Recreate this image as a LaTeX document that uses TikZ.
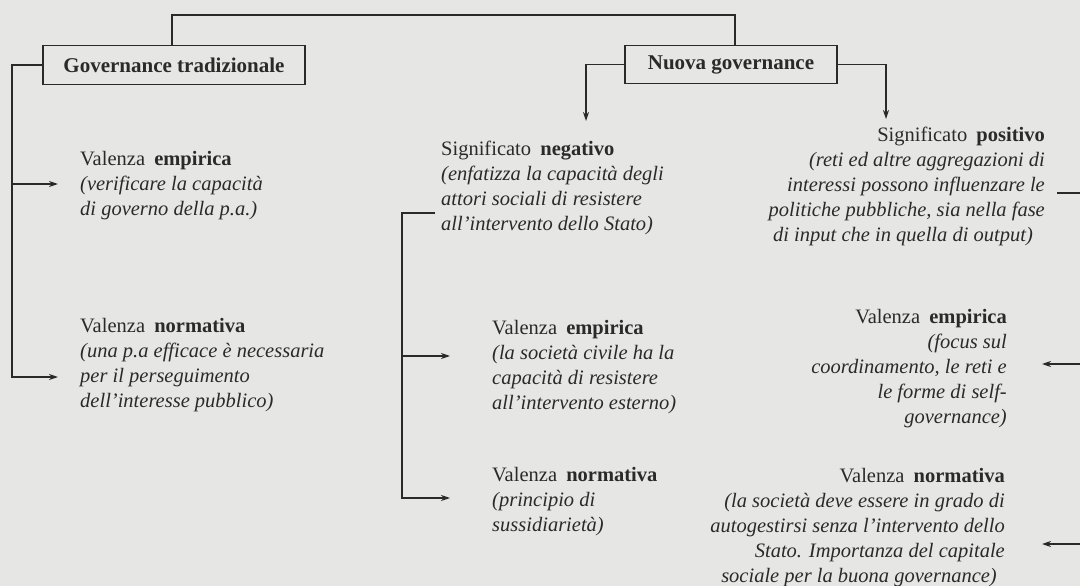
\documentclass[tikz,border=0pt]{standalone}
\usepackage{fontspec}
\setmainfont{Liberation Serif}
\usetikzlibrary{arrows.meta}
\definecolor{bg}{RGB}{230,230,228}
\definecolor{ink}{RGB}{42,42,42}
\newcommand{\gap}{\hspace{0.45em}}
\begin{document}
\begin{tikzpicture}[x=1pt,y=-1pt,
  line/.style={draw=ink,line width=1.2pt},
  arr/.style={line,-{Stealth[length=9pt,width=6pt]}},
  gbox/.style={draw=ink,line width=1.5pt,fill=bg,font=\fontsize{21}{25}\selectfont\bfseries,text=ink,inner sep=0pt},
  txt/.style={inner sep=0pt,text=ink,font=\fontsize{20.5}{25}\selectfont},
]
\fill[bg] (0,0) rectangle (1080,586);
\useasboundingbox (0,0) rectangle (1080,586);
\clip (0,0) rectangle (1080,586);

% boxes
\node[gbox,minimum width=262pt,minimum height=39pt] (gt) at (174,65) {Governance tradizionale};
\node[gbox,minimum width=212pt,minimum height=38pt] (ng) at (731,64.5) {Nuova governance};

% text blocks
\node[txt,anchor=north west,align=left] (le) at (80,147.5)
  {\strut Valenza\gap\textbf{empirica}\\\textit{(verificare la capacità}\\\textit{di governo della p.a.)}};
\node[txt,anchor=north west,align=left] (ln) at (80,314.5)
  {\strut Valenza\gap\textbf{normativa}\\\textit{(una p.a efficace è necessaria}\\\textit{per il perseguimento}\\\textit{dell'interesse pubblico)}};
\node[txt,anchor=north west,align=left] (mneg) at (441,137.5)
  {\strut Significato\gap\textbf{negativo}\\\textit{(enfatizza la capacità degli}\\\textit{attori sociali di resistere}\\\textit{all'intervento dello Stato)}};
\node[txt,anchor=north west,align=left] (me) at (492,316.5)
  {\strut Valenza\gap\textbf{empirica}\\\textit{(la società civile ha la}\\\textit{capacità di resistere}\\\textit{all'intervento esterno)}};
\node[txt,anchor=north west,align=left] (mn) at (492,463.5)
  {\strut Valenza\gap\textbf{normativa}\\\textit{(principio di}\\\textit{sussidiarietà)}};
\node[txt,anchor=north east,align=right] (rpos) at (1045,123.5)
  {\strut Significato\gap\textbf{positivo}\\\textit{(reti ed altre aggregazioni di}\hspace*{7pt}\\\textit{interessi possono influenzare le}\hspace*{17pt}\\\textit{politiche pubbliche, sia nella fase}\hspace*{20pt}\\\textit{di input che in quella di output)}\hspace*{12pt}};
\node[txt,anchor=north east,align=right] (re) at (1007,305.5)
  {\strut Valenza\gap\textbf{empirica}\\\textit{(focus sul}\\\textit{coordinamento, le reti e}\hspace*{10pt}\\\textit{le forme di self-}\\\textit{governance)}};
\node[txt,anchor=north east,align=right] (rn) at (1005,464.5)
  {\strut Valenza\gap\textbf{normativa}\\\textit{(la società deve essere in grado di}\hspace*{2pt}\\\textit{autogestirsi senza l'intervento dello}\hspace*{3pt}\\\textit{Stato. Importanza del capitale}\hspace*{8pt}\\\textit{sociale per la buona governance)}\hspace*{8pt}};

% connector points
\coordinate (t1) at (172,15);
\coordinate (t2) at (735,15);
\coordinate (lx) at (12,65);
\coordinate (a1) at (58,184);
\coordinate (a2) at (58,377);
\coordinate (nl) at (586,121);
\coordinate (nr) at (886,119);
\coordinate (ms) at (435,213);
\coordinate (mx) at (402,213);
\coordinate (b1) at (450,356);
\coordinate (b2) at (450,498);
\coordinate (rs) at (1057,193);
\coordinate (rx) at (1095,193);
\coordinate (c1) at (1042,364);
\coordinate (c2) at (1042,544);

% connectors
\draw[line] (gt.north -| t1) -- (t1) -- (t2) -- (ng.north -| t2);
\draw[arr] (gt.west) -- (lx) -- (lx |- a2) -- (a2);
\draw[arr] (lx |- a1) -- (a1);
\draw[arr] (ng.west) -| (nl);
\draw[arr] (ng.east) -| (nr);
\draw[arr] (ms) -- (mx) -- (mx |- b2) -- (b2);
\draw[arr] (mx |- b1) -- (b1);
\draw[line] (rs) -- (rx) -- (rx |- c2);
\draw[arr] (rx |- c1) -- (c1);
\draw[arr] (rx |- c2) -- (c2);
\end{tikzpicture}
\end{document}
